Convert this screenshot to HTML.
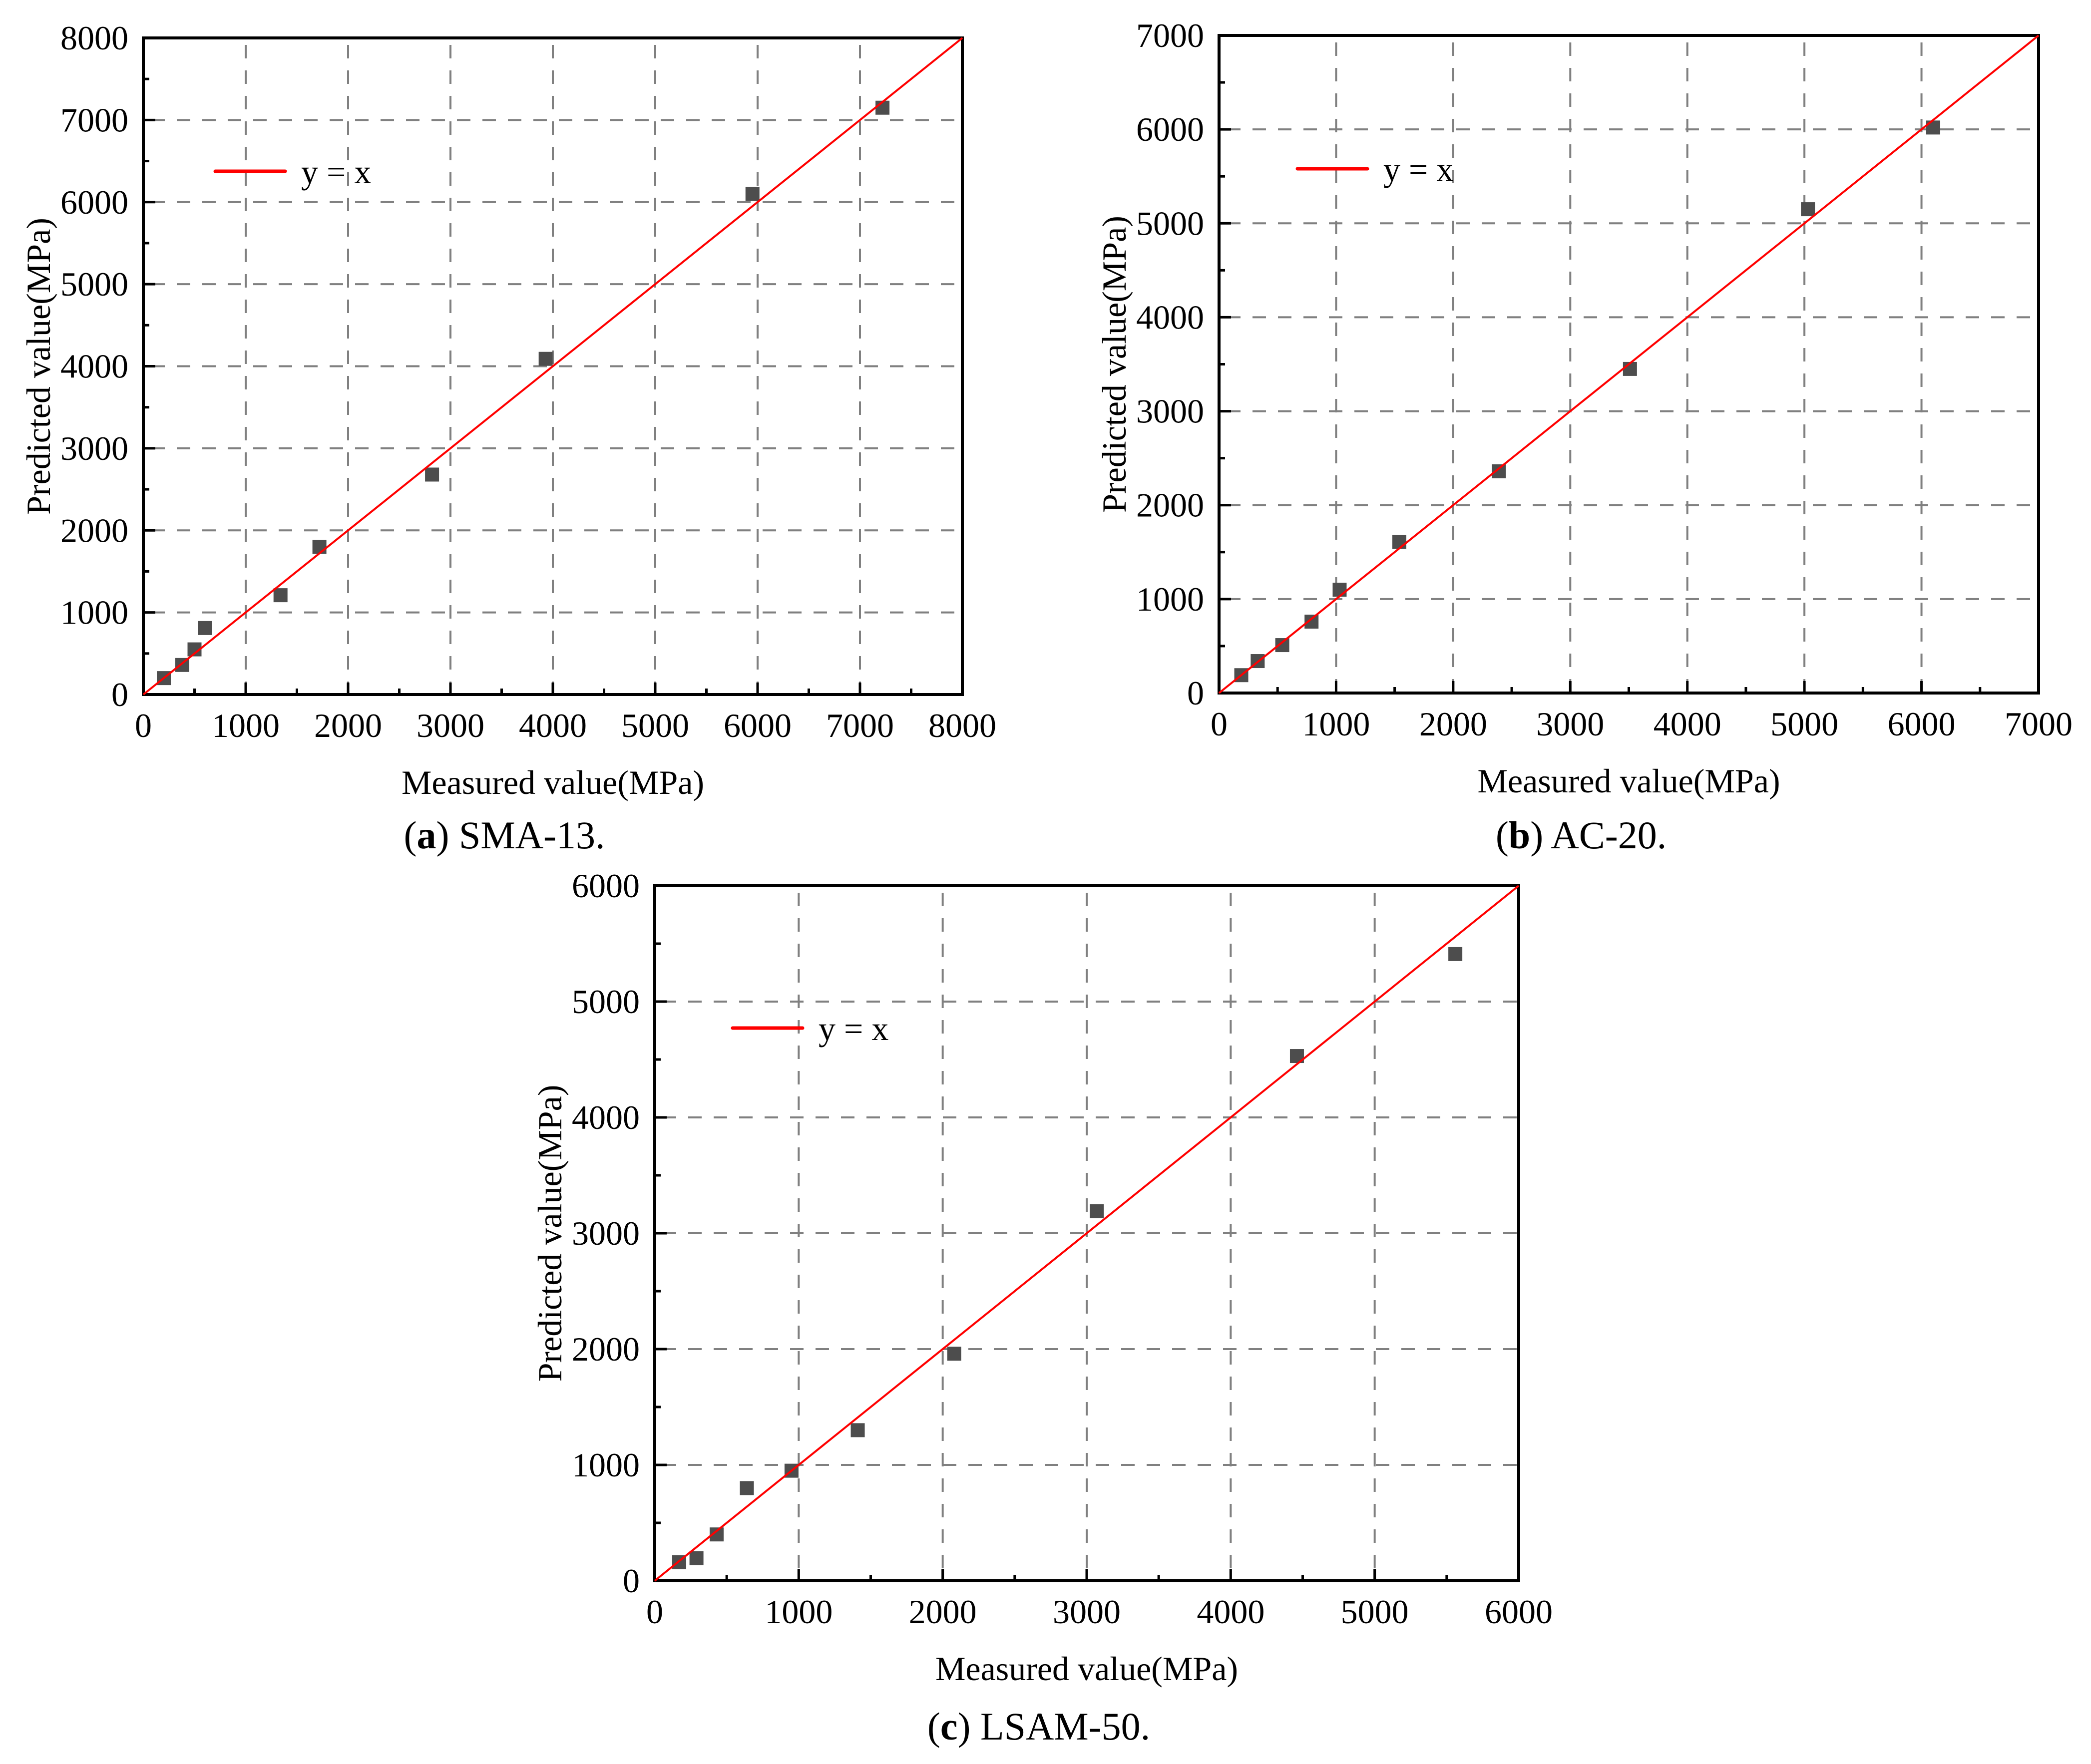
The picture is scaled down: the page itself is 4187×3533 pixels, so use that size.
<!DOCTYPE html>
<html><head><meta charset="utf-8"><style>
html,body{margin:0;padding:0;background:#fff;}
svg{display:block;font-family:"Liberation Serif",serif;}
</style></head><body>
<svg id="fig" width="4187" height="3533" viewBox="0 0 4187 3533" xmlns="http://www.w3.org/2000/svg"></svg>
<script>
// Chart (a) SMA-13
const aMeasured = [200, 380, 500, 600, 1340, 1720, 2820, 3930, 5950, 7220];
const aPredicted = [200, 360, 550, 810, 1210, 1800, 2680, 4090, 6100, 7150];
const aTicks = ["0","1000","2000","3000","4000","5000","6000","7000","8000"];
// Chart (b) AC-20
const bMeasured = [190, 330, 540, 790, 1030, 1540, 2390, 3510, 5030, 6100];
const bPredicted = [190, 340, 510, 760, 1100, 1610, 2360, 3450, 5150, 6020];
const bTicks = ["0","1000","2000","3000","4000","5000","6000","7000"];
// Chart (c) LSAM-50
const cMeasured = [170, 290, 430, 640, 950, 1410, 2080, 3070, 4460, 5560];
const cPredicted = [160, 195, 400, 800, 950, 1300, 1960, 3190, 4530, 5410];
const cTicks = ["0","1000","2000","3000","4000","5000","6000"];

const NS = "http://www.w3.org/2000/svg";
const svg = document.getElementById('fig');
function mk(tag, attrs, parent){
  const e = document.createElementNS(NS, tag);
  for (const k in attrs) e.setAttribute(k, attrs[k]);
  parent.appendChild(e);
  return e;
}
function chart(cfg){
  const g = mk('g', {}, svg);
  
  
  const max = Number(cfg.ticks[cfg.ticks.length-1]);
  const sx = v => cfg.x0 + (v/max)*(cfg.x1-cfg.x0);
  const sy = v => cfg.yb - (v/max)*(cfg.yb-cfg.yt);
  const step = Number(cfg.ticks[1]);
  // grid
  const grid = mk('g', {stroke:'#808080','stroke-width':4,'stroke-dasharray':'27 24'}, g);
  
  
  for (let i=1;i<cfg.ticks.length-1;i++){
    const v = Number(cfg.ticks[i]);
    mk('line',{x1:sx(v),x2:sx(v),y1:cfg.yt+14,y2:cfg.yb}, grid);
    mk('line',{x1:cfg.x0+16,x2:cfg.x1,y1:sy(v),y2:sy(v)}, grid);
  }
  // ticks
  const tk = mk('g',{stroke:'#000','stroke-width':5}, g);
  
  
  for (let i=0;i<cfg.ticks.length;i++){
    const v = Number(cfg.ticks[i]);
    mk('line',{x1:sx(v),x2:sx(v),y1:cfg.yb,y2:cfg.yb-24}, tk);
    mk('line',{x1:cfg.x0,x2:cfg.x0+24,y1:sy(v),y2:sy(v)}, tk);
    if (i<cfg.ticks.length-1){
      const m = v + step/2;
      mk('line',{x1:sx(m),x2:sx(m),y1:cfg.yb,y2:cfg.yb-12}, tk);
      mk('line',{x1:cfg.x0,x2:cfg.x0+12,y1:sy(m),y2:sy(m)}, tk);
    }
  }
  // tick labels
  for (let i=0;i<cfg.ticks.length;i++){
    const v = Number(cfg.ticks[i]);
    const t1 = mk('text',{x:sx(v),y:cfg.yb+62,'font-size':68,'text-anchor':'middle','dominant-baseline':'central'}, g);
    t1.textContent = cfg.ticks[i];
    
    
    const t2 = mk('text',{x:cfg.x0-30,y:sy(v),'font-size':68,'text-anchor':'end','dominant-baseline':'central'}, g);
    t2.textContent = cfg.ticks[i];
    
    
  }
  // frame
  const fr = mk('rect',{x:cfg.x0,y:cfg.yt,width:cfg.x1-cfg.x0,height:cfg.yb-cfg.yt,fill:'none',stroke:'#000','stroke-width':6}, g);
  
  
  // points
  for (let i=0;i<cfg.mx.length;i++){
    const r = mk('rect',{x:sx(cfg.mx[i])-14,y:sy(cfg.py[i])-14,width:28,height:28,fill:'#4d4d4d'}, g);
    
    
  }
  // y=x line
  const ln = mk('line',{x1:sx(0),y1:sy(0),x2:sx(max),y2:sy(max),stroke:'#ff0000','stroke-width':4}, g);
  
  
  // legend
  const lg = mk('g',{}, g);
  
  
  mk('line',{x1:cfg.lx,x2:cfg.lx+140,y1:cfg.ly,y2:cfg.ly,stroke:'#ff0000','stroke-width':7,'stroke-linecap':'round'}, lg);
  const lt = mk('text',{x:cfg.lx+172,y:cfg.ly+24,'font-size':68}, lg);
  lt.textContent = 'y = x';
  // titles
  const xt = mk('text',{x:(cfg.x0+cfg.x1)/2,y:cfg.yb+176,'font-size':68,'text-anchor':'middle','dominant-baseline':'central'}, g);
  xt.textContent = 'Measured value(MPa)';
  
  
  const yx = cfg.x0-210, yy = (cfg.yt+cfg.yb)/2;
  const yt = mk('text',{x:yx,y:yy,'font-size':68,'text-anchor':'middle','dominant-baseline':'central',transform:'rotate(-90 '+yx+' '+yy+')'}, g);
  yt.textContent = 'Predicted value(MPa)';
  
  
  const cp = mk('text',{x:cfg.cx,y:cfg.cy,'font-size':78,'text-anchor':'middle','dominant-baseline':'central'}, g);
  
  
  const s1 = mk('tspan',{},cp); s1.textContent='(';
  const s2 = mk('tspan',{'font-weight':'bold'},cp); s2.textContent=cfg.letter;
  const s3 = mk('tspan',{},cp); s3.textContent=') '+cfg.caption;
}
chart({id:'a',x0:287,x1:1927,yt:76,yb:1391,ticks:aTicks,mx:aMeasured,py:aPredicted,lx:431,ly:343,cx:1010,cy:1672,letter:'a',caption:'SMA-13.'});
chart({id:'b',x0:2441,x1:4082,yt:71,yb:1388,ticks:bTicks,mx:bMeasured,py:bPredicted,lx:2598,ly:338,cx:3166,cy:1672,letter:'b',caption:'AC-20.'});
chart({id:'c',x0:1311,x1:3041,yt:1774,yb:3166,ticks:cTicks,mx:cMeasured,py:cPredicted,lx:1467,ly:2059,cx:2080,cy:3457,letter:'c',caption:'LSAM-50.'});
</script>
</body></html>
